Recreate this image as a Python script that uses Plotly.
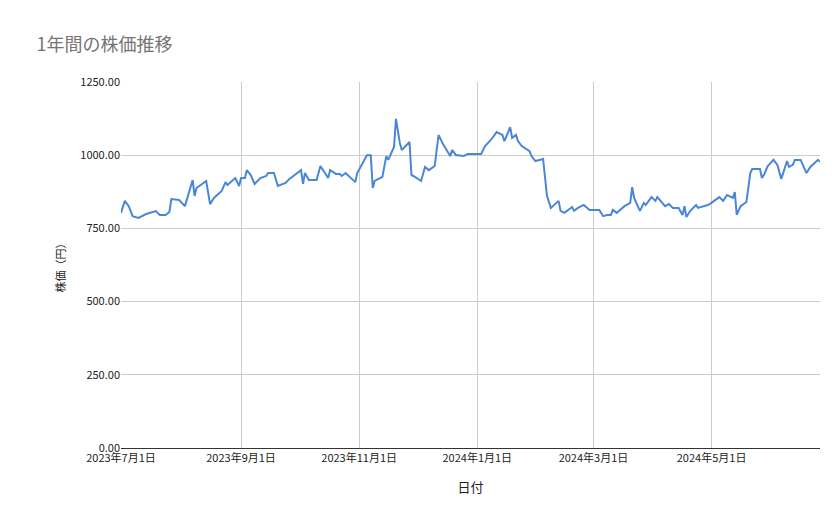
import plotly.graph_objects as go

fechas = ["2023-07-01","2023-07-03","2023-07-05","2023-07-07","2023-07-10","2023-07-14","2023-07-19","2023-07-21",
          "2023-07-24","2023-07-26","2023-07-27","2023-07-31","2023-08-03","2023-08-07","2023-08-08","2023-08-09",
          "2023-08-14","2023-08-16","2023-08-18","2023-08-22","2023-08-24","2023-08-25","2023-08-29","2023-08-31",
          "2023-09-01","2023-09-03","2023-09-04","2023-09-06","2023-09-08","2023-09-11","2023-09-14","2023-09-15",
          "2023-09-18","2023-09-20","2023-09-24","2023-09-26","2023-09-28","2023-10-02","2023-10-03","2023-10-04",
          "2023-10-06","2023-10-10","2023-10-12","2023-10-16","2023-10-17","2023-10-20","2023-10-22","2023-10-23",
          "2023-10-25","2023-10-30","2023-10-31","2023-11-05","2023-11-07","2023-11-08","2023-11-09","2023-11-13",
          "2023-11-15","2023-11-16","2023-11-19","2023-11-20","2023-11-22","2023-11-23","2023-11-27","2023-11-28",
          "2023-11-29","2023-12-03","2023-12-05","2023-12-07","2023-12-10","2023-12-12","2023-12-14","2023-12-18",
          "2023-12-19","2023-12-21","2023-12-22","2023-12-25","2023-12-27","2024-01-03","2024-01-05","2024-01-08",
          "2024-01-11","2024-01-14","2024-01-15","2024-01-18","2024-01-19","2024-01-21","2024-01-22","2024-01-24",
          "2024-01-28","2024-01-29","2024-01-31","2024-02-04","2024-02-06","2024-02-08","2024-02-12","2024-02-13",
          "2024-02-15","2024-02-19","2024-02-20","2024-02-22","2024-02-25","2024-02-27","2024-02-28","2024-03-04",
          "2024-03-06","2024-03-08","2024-03-10","2024-03-11","2024-03-13","2024-03-17","2024-03-18","2024-03-20",
          "2024-03-21","2024-03-22","2024-03-25","2024-03-27","2024-03-28","2024-03-31","2024-04-02","2024-04-03",
          "2024-04-07","2024-04-09","2024-04-11","2024-04-14","2024-04-16","2024-04-17","2024-04-18","2024-04-20",
          "2024-04-23","2024-04-24","2024-04-29","2024-04-30","2024-05-05","2024-05-07","2024-05-09","2024-05-12",
          "2024-05-13","2024-05-14","2024-05-16","2024-05-19","2024-05-21","2024-05-22","2024-05-26","2024-05-27",
          "2024-05-28","2024-05-30","2024-06-02","2024-06-04","2024-06-06","2024-06-09","2024-06-10","2024-06-12",
          "2024-06-13","2024-06-16","2024-06-19","2024-06-21","2024-06-25","2024-06-26"]

precios = [803,844,826,792,786,799,809,796,
           796,806,850,847,826,915,861,888,
           912,833,854,878,908,898,922,895,
           922,922,949,932,902,922,929,939,
           939,895,905,919,929,949,902,939,
           915,915,963,922,949,936,936,929,
           939,908,939,1000,1000,888,912,926,
           997,984,1028,1124,1042,1018,1045,932,
           929,912,960,949,963,1069,1042,997,
           1018,1000,1000,997,1004,1004,1031,1052,
           1079,1069,1048,1096,1059,1069,1048,1031,
           1014,997,980,987,861,820,844,810,
           803,823,810,820,830,820,813,813,
           792,796,796,813,803,826,830,837,
           891,854,810,837,830,857,844,857,
           826,833,820,820,796,826,789,810,
           830,820,830,833,857,844,864,854,
           874,796,826,840,939,953,953,922,
           932,963,984,967,919,980,960,967,
           984,984,939,960,984,977]

ticks_x = ["2023-07-01","2023-09-01","2023-11-01","2024-01-01","2024-03-01","2024-05-01"]
etiquetas_x = ["2023年7月1日","2023年9月1日","2023年11月1日","2024年1月1日","2024年3月1日","2024年5月1日"]

fig = go.Figure(go.Scatter(x=fechas, y=precios, mode="lines",
                           line=dict(color="#4a86d8", width=2)))

fig.update_layout(
    width=839, height=519,
    paper_bgcolor="white", plot_bgcolor="white",
    margin=dict(l=113, r=27, t=74, b=79, autoexpand=False),
    font=dict(family="Noto Sans CJK JP, Roboto", size=11, color="#222"),
    title=dict(text="1年間の株価推移", x=0.034, y=0.93, xanchor="left", yanchor="middle",
               font=dict(size=18, color="#757575")),
    showlegend=False,
)
fig.update_xaxes(range=["2023-07-01", "2024-06-26"], tickvals=ticks_x, ticktext=etiquetas_x,
                 showgrid=True, gridcolor="#cccccc", showline=True, linecolor="#333",
                 title=dict(text="日付", standoff=18), tickfont=dict(size=11))
fig.update_yaxes(range=[0, 1250], tickvals=[0, 250, 500, 750, 1000, 1250], tickformat=".2f",
                 gridcolor="#cccccc", zeroline=False,
                 title=dict(text="株価（円）", standoff=12, font=dict(size=11)),
                 tickfont=dict(size=11))

fig.write_html("out.html")
